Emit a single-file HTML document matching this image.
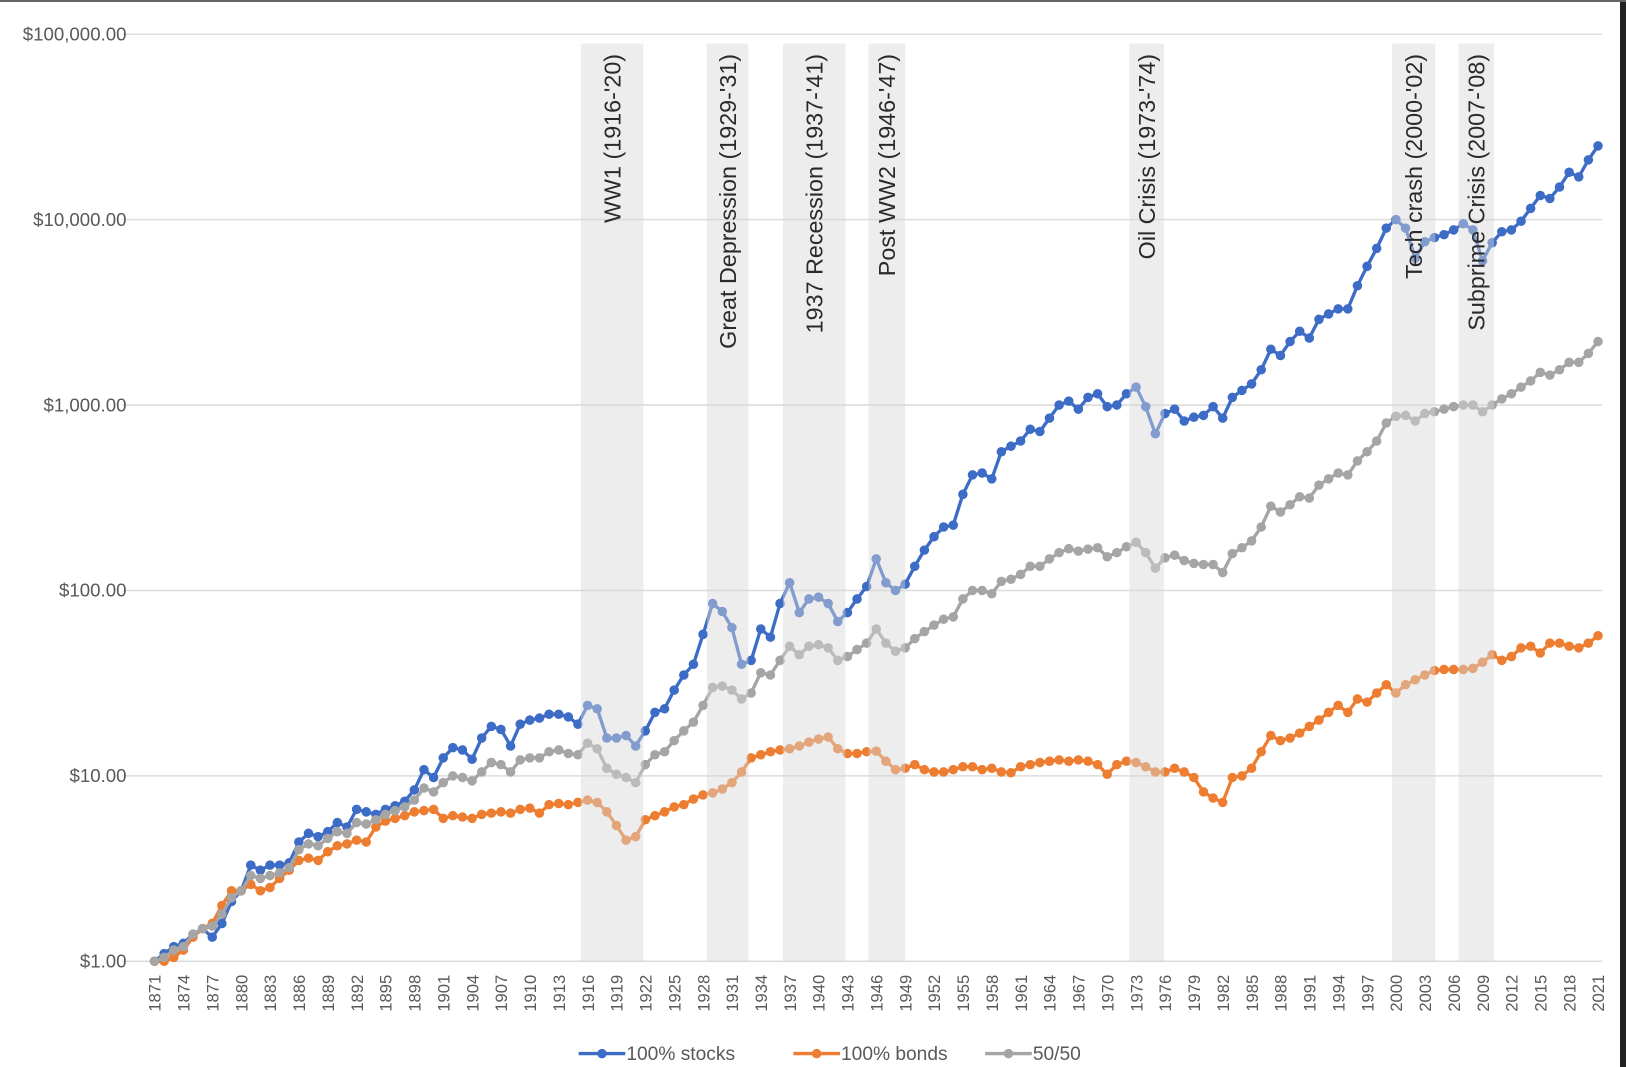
<!DOCTYPE html>
<html><head><meta charset="utf-8"><style>
html,body{margin:0;padding:0;background:#fff;width:1626px;height:1067px;overflow:hidden}
svg{display:block}
text{font-family:"Liberation Sans",sans-serif}
</style></head><body>
<svg id="chart" width="1626" height="1067">
<rect x="0" y="0" width="1626" height="1067" fill="#fff"/>
<rect x="1620" y="0" width="6" height="1067" fill="#222"/>
<rect x="0" y="0" width="1626" height="2" fill="#666"/>
<g transform="scale(1.037)">
<g id="grid"></g><g id="series"></g><g id="bands"></g><g id="xaxis"></g><g id="yaxis"></g><g id="legend"></g>
</g>
</svg>
<script>
const startYear = 1871;
const stocks = [1.0,1.1,1.2,1.25,1.4,1.5,1.35,1.6,2.1,2.4,3.3,3.1,3.3,3.3,3.4,4.4,4.9,4.7,5.0,5.6,5.3,6.6,6.4,6.2,6.6,6.9,7.3,8.4,10.8,9.8,12.5,14.2,13.8,12.3,16,18.5,17.8,14.5,19,20,20.5,21.5,21.5,20.8,19,24,23,16,16,16.5,14.5,17.5,22,23,29,35,40,58,85,77,63,40,42,62,56,85,110,76,90,92,85,68,76,90,105,148,110,100,108,135,165,195,220,225,330,420,430,400,560,600,640,740,720,850,1000,1050,950,1100,1150,980,1000,1150,1250,980,700,900,950,820,860,880,980,850,1100,1200,1300,1550,2000,1850,2200,2500,2300,2900,3100,3300,3300,4400,5600,7000,9000,10000,9000,6200,7600,8000,8300,8800,9500,8800,6000,7500,8600,8800,9800,11500,13500,13000,15000,18000,17000,21000,25000];
const bonds = [1.0,1.0,1.05,1.15,1.35,1.5,1.6,2.0,2.4,2.4,2.6,2.4,2.5,2.8,3.1,3.5,3.6,3.5,3.9,4.2,4.3,4.5,4.4,5.3,5.7,5.9,6.1,6.4,6.5,6.6,5.9,6.1,6.0,5.9,6.2,6.3,6.4,6.3,6.6,6.7,6.3,7.0,7.1,7.0,7.2,7.4,7.2,6.4,5.4,4.5,4.7,5.8,6.1,6.4,6.8,7.0,7.5,7.9,8.1,8.5,9.2,10.5,12.5,13.0,13.5,13.8,14.0,14.5,15.2,15.8,16.2,14.0,13.2,13.2,13.5,13.6,12.0,10.8,11.0,11.5,10.8,10.5,10.5,10.8,11.2,11.2,10.8,11.0,10.5,10.4,11.2,11.5,11.8,12.0,12.2,12.0,12.2,12.0,11.5,10.2,11.5,12.0,11.8,11.2,10.5,10.5,11.0,10.5,9.8,8.2,7.6,7.2,9.8,10.0,11.0,13.5,16.5,15.5,16.0,17.0,18.5,20.0,22.0,24.0,22.0,26.0,25.0,28.0,31.0,28.0,31.0,33.0,35.0,37.0,37.5,37.5,37.5,38.0,41.0,45.0,42.0,44.0,49.0,50.0,46.0,52.0,52.0,50.0,49.0,52.0,57.0];
const mixed = [1.0,1.05,1.15,1.2,1.4,1.5,1.55,1.8,2.2,2.4,2.9,2.8,2.9,3.0,3.2,4.0,4.3,4.2,4.6,5.0,4.9,5.6,5.5,5.8,6.2,6.5,6.8,7.4,8.6,8.2,9.2,10.0,9.8,9.4,10.5,11.8,11.5,10.5,12.2,12.5,12.5,13.5,13.8,13.2,13.0,15.0,14.0,11.0,10.2,9.8,9.2,11.5,13.0,13.5,15.5,17.5,19.5,24.0,30.0,30.5,29.0,26.0,28.0,36.0,35.0,42.0,50.0,45.0,50.0,51.0,49.0,42.0,44.0,48.0,52.0,62.0,52.0,47.0,49.0,55.0,60.0,65.0,70.0,72.0,90.0,100.0,100.0,96.0,112.0,115.0,122.0,135.0,135.0,148.0,160.0,168.0,163.0,167.0,170.0,152.0,160.0,172.0,182.0,160.0,132.0,150.0,155.0,145.0,140.0,138.0,138.0,125.0,158.0,170.0,185.0,220.0,285.0,265.0,290.0,320.0,315.0,370.0,400.0,430.0,420.0,500.0,560.0,640.0,800.0,870.0,880.0,820.0,900.0,920.0,950.0,980.0,1000.0,1000.0,920.0,1000.0,1080.0,1150.0,1250.0,1350.0,1500.0,1450.0,1550.0,1700.0,1700.0,1900.0,2200.0];
const yTicks = [1,10,100,1000,10000,100000];
const yTickLabels = ["$1.00","$10.00","$100.00","$1,000.00","$10,000.00","$100,000.00"];
const bandStarts = [1915.3,1928.4,1936.3,1945.2,1972.3,1999.6,2006.5];
const bandEnds = [1921.8,1932.7,1942.8,1949.0,1975.9,2004.1,2010.2];
const bandLabels = ["WW1 (1916-'20)","Great Depression (1929-'31)","1937 Recession (1937-'41)","Post WW2 (1946-'47)","Oil Crisis (1973-'74)","Tech crash (2000-'02)","Subprime Crisis (2007-'08)"];
const seriesNames = ["100% stocks","100% bonds","50/50"];

const NS="http://www.w3.org/2000/svg";
const X=yr=>149+(yr-1871)*(1541-149)/150;
const Y=v=>927-Math.log10(v)*178.8;
function mk(tag,attrs,parent){const e=document.createElementNS(NS,tag);for(const k in attrs)e.setAttribute(k,attrs[k]);parent.appendChild(e);return e;}
const grid=document.getElementById('grid'),yax=document.getElementById('yaxis'),xax=document.getElementById('xaxis');
yTicks.forEach((t,i)=>{
  const l=mk('line',{x1:118,x2:1545,y1:Y(t),y2:Y(t),stroke:'#dcdcdc','stroke-width':1.5},grid);
  
  
  const tx=mk('text',{x:122,y:Y(t)+6,'text-anchor':'end','font-size':18,'textLength':0,fill:'#595959'},yax);
  tx.removeAttribute('textLength');
  tx.textContent=yTickLabels[i];
  
  
});
for(let yr=1871;yr<=2021;yr+=3){
  const tx=mk('text',{transform:`translate(${X(yr)+6},940) rotate(-90)`,'text-anchor':'end','font-size':16,fill:'#595959'},xax);
  tx.textContent=yr;
  
  
}
const colors=['#3d6cc6','#ed7d31','#a5a5a5'];
const sg=document.getElementById('series');
[stocks,bonds,mixed].forEach((arr,si)=>{
  const g=mk('g',{},sg);
  
  
  const pts=arr.map((v,i)=>X(startYear+i).toFixed(1)+','+Y(v).toFixed(1)).join(' ');
  const pl=mk('polyline',{points:pts,fill:'none',stroke:colors[si],'stroke-width':3.2,'stroke-linejoin':'round'},g);
  
  
  arr.forEach((v,i)=>{
    const c=mk('circle',{cx:X(startYear+i),cy:Y(v),r:4.6,fill:colors[si]},g);
    
    
  });
});
const bg=document.getElementById('bands');
bandStarts.forEach((s,i)=>{
  const r=mk('rect',{x:X(s),y:42,width:X(bandEnds[i])-X(s),height:927-42,fill:'rgba(215,215,215,0.45)'},bg);
  
  
  const cx=(X(s)+X(bandEnds[i]))/2;
  const t=mk('text',{transform:`translate(${cx+8},52) rotate(-90)`,'text-anchor':'end','font-size':22.5,fill:'#2a2a2a'},bg);
  t.textContent=bandLabels[i];
  
  
});
const lg=document.getElementById('legend');
const lx=[558,765,950];
seriesNames.forEach((n,i)=>{
  const g=mk('g',{},lg);
  
  
  mk('line',{x1:lx[i],x2:lx[i]+45,y1:1016,y2:1016,stroke:colors[i],'stroke-width':3.2},g);
  mk('circle',{cx:lx[i]+22.5,cy:1016,r:4.6,fill:colors[i]},g);
  const t=mk('text',{x:lx[i]+46,y:1022,'font-size':18.5,fill:'#595959'},g);
  t.textContent=n;
});
</script>
</body></html>
